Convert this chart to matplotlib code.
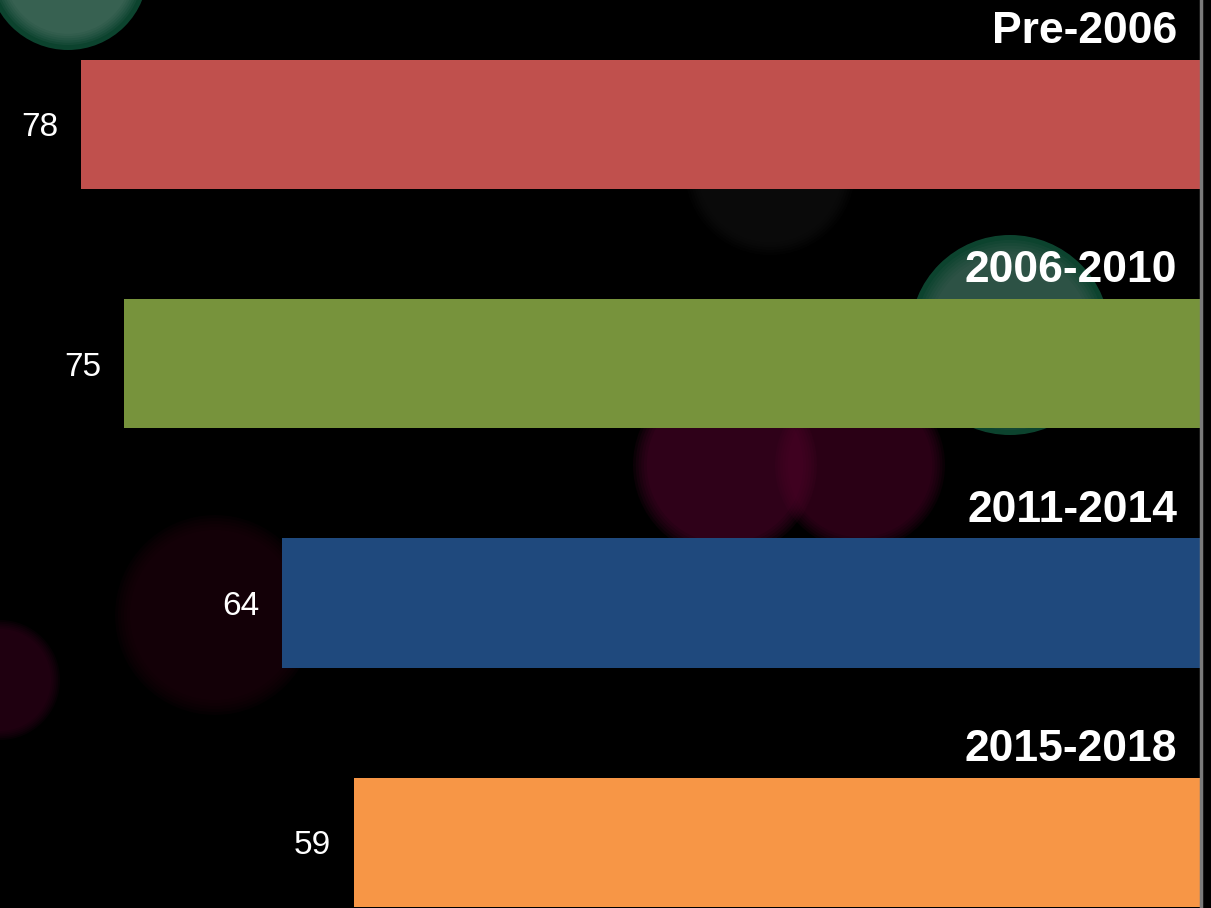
import numpy as np
import matplotlib
matplotlib.use("Agg")
from matplotlib import pyplot as plt
from matplotlib.patches import Circle

# data
periods = ["Pre-2006", "2006-2010", "2011-2014", "2015-2018"]
values = [78, 75, 64, 59]
bar_colors = ["#C0504D", "#77933C", "#1F497D", "#F79646"]

# bokeh background blobs (pixel coords, radius, fill, rim, alpha)
blobs = [
    (68, -30, 80, "#6f8a80", "#1fa070", 0.6),
    (1010, 335, 100, "#5a6a66", "#1fa070", 0.6),
    (725, 465, 92, "#5a0830", None, 0.75),
    (860, 465, 85, "#50062a", None, 0.75),
    (215, 615, 100, "#22040e", None, 0.9),
    (0, 680, 60, "#3a0520", None, 0.8),
    (770, 170, 85, "#161616", None, 0.8),
]

plt.rcParams["font.family"] = ["Liberation Sans", "DejaVu Sans"]

fig = plt.figure(figsize=(12.11, 9.08), dpi=100, facecolor="black")

# background layer
bg = fig.add_axes([0, 0, 1, 1])
bg.set_xlim(0, 1211)
bg.set_ylim(908, 0)
bg.set_facecolor("#030303")
bg.axis("off")
for cx, cy, r, col, rim, a in blobs:
    if rim:
        bg.add_patch(Circle((cx, cy), r, color=rim, alpha=a * 0.7, lw=0))
        r = r - 5
    # soft edge: stack a few circles
    for k in range(6):
        bg.add_patch(Circle((cx, cy), r * (1 - 0.03 * k), color=col,
                            alpha=a / 6, lw=0))

ax = fig.add_axes([0, 0, 1, 1])
ax.patch.set_alpha(0)
y = np.arange(len(values))
ax.barh(y, values, height=0.54, color=bar_colors, zorder=2)
ax.set_xlim(83.64, -0.70)
ax.set_ylim(3.274, -0.520)
ax.axvline(0, color="#7a7a7a", lw=2.5, zorder=3)

for i, (p, v) in enumerate(zip(periods, values)):
    ax.annotate(str(v), xy=(v, i), xytext=(-16.5, 0), textcoords="offset points",
                ha="right", va="center_baseline", color="white", fontsize=24)
    ax.annotate(p, xy=(0, i - 0.27), xytext=(-17, 12), textcoords="offset points",
                ha="right", va="baseline", color="white", fontsize=32,
                fontweight="bold")

ax.axis("off")
fig.savefig("out.png", dpi=100, facecolor="black")
